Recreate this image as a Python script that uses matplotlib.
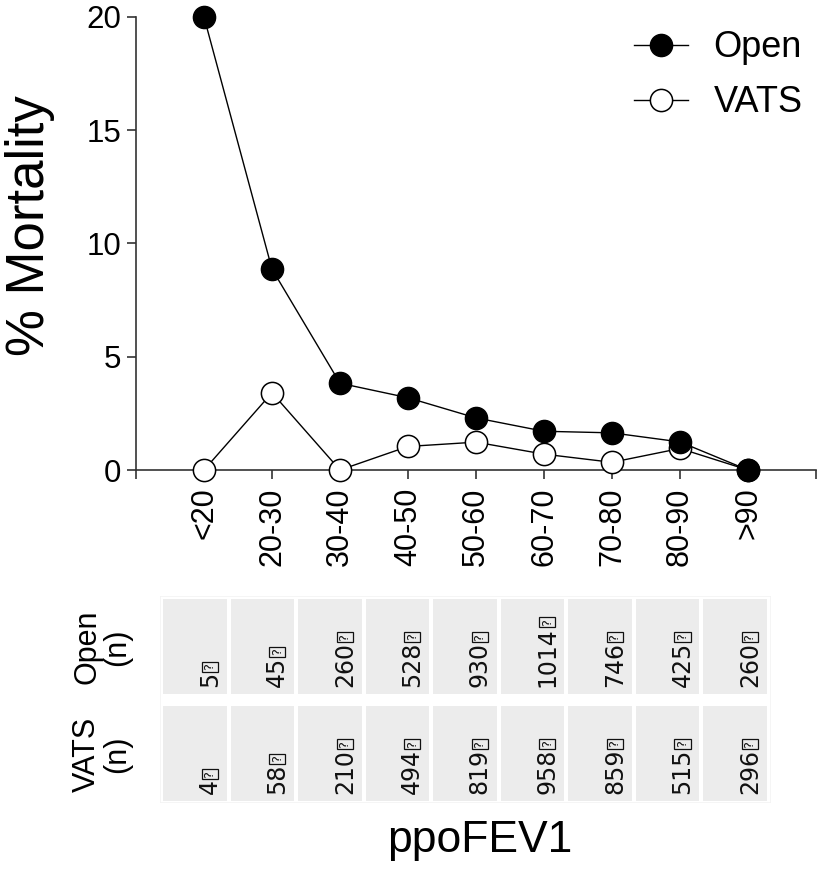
import matplotlib
matplotlib.use("Agg")
import matplotlib.pyplot as plt
from matplotlib.patches import Rectangle
import numpy as np

categories = ["<20", "20-30", "30-40", "40-50", "50-60", "60-70", "70-80", "80-90", ">90"]
open_mort = [20.0, 8.87, 3.83, 3.19, 2.30, 1.71, 1.64, 1.24, 0.0]
vats_mort = [0.0, 3.41, 0.0, 1.04, 1.23, 0.70, 0.34, 0.95, 0.0]
open_n = ["5", "45", "260", "528", "930", "1014", "746", "425", "260"]
vats_n = ["4", "58", "210", "494", "819", "958", "859", "515", "296"]
row_labels = ["Open\n(n)", "VATS\n(n)"]
yticks = [0, 5, 10, 15, 20]

W, H = 817, 872
fig = plt.figure(figsize=(W / 100, H / 100), dpi=100)
SANS = ["Liberation Sans", "DejaVu Sans"]

def fx(px):
    return px / W

def fy(py):
    return 1 - py / H

ax = fig.add_axes([fx(136), fy(470), fx(816) - fx(136), fy(17) - fy(470)])
x = np.arange(len(categories))
ax.plot(x, vats_mort, color="black", lw=1, marker="o", ms=16, mfc="white", mec="black",
        mew=1.1, label="VATS", clip_on=False, zorder=3)
ax.plot(x, open_mort, color="black", lw=1, marker="o", ms=16, mfc="black", mec="black",
        label="Open", clip_on=False, zorder=4)
ax.set_xlim(-1, len(categories))
ax.set_ylim(0, 20)
for s in ["top", "right"]:
    ax.spines[s].set_visible(False)
for s in ["left", "bottom"]:
    ax.spines[s].set_color("#333333")
    ax.spines[s].set_linewidth(1.2)
ax.set_yticks(yticks)
ax.set_yticklabels([str(t) for t in yticks], fontsize=22.5, family=SANS)
ax.set_xticks(list(range(-1, len(categories) + 1)))
ax.set_xticklabels([""] + categories + [""], rotation=90, fontsize=22, family=SANS)
ax.tick_params(axis="both", length=6.5, width=1.2, color="#333333")
ax.tick_params(axis="y", pad=4)
ax.tick_params(axis="x", pad=6)
fig.text(fx(30), fy(226), "% Mortality", rotation=90, ha="center", va="center",
         fontsize=38, family=SANS)

handles, labels = ax.get_legend_handles_labels()
order = [labels.index("Open"), labels.index("VATS")]
leg = ax.legend([handles[i] for i in order], [labels[i] for i in order],
                loc="upper right", bbox_to_anchor=(fx(817), fy(16)), bbox_transform=fig.transFigure,
                frameon=False, prop={"family": SANS, "size": 26}, handlelength=1.5,
                handletextpad=0.7, labelspacing=0.55, borderaxespad=0)

# table
tab = fig.add_axes([fx(160), fy(803), fx(771) - fx(160), fy(596) - fy(803)])
tab.set_xlim(-0.045, 9.0)
pitch = 107.0
tab.set_ylim((803 - 596) / pitch - 0.028, -0.028)
tab.axis("off")
frame = Rectangle((0, 0), 1, 1, transform=tab.transAxes, fill=False, ec="#f3f3f3", lw=1.2)
tab.add_patch(frame)
for r, vals in enumerate([open_n, vats_n]):
    for c, v in enumerate(vals):
        tab.add_patch(Rectangle((c, r), 0.94, 0.885, fc="#ececec", ec="none"))
        t = tab.text(c + 0.69, r + 0.82, v, rotation=90, ha="center", va="bottom",
                     fontsize=17, family="DejaVu Sans", color="#111111")
        tab.annotate("?", xy=(0.5, 1.0), xycoords=t, xytext=(0, 0.8), textcoords="offset points",
                     rotation=90, ha="center", va="bottom", fontsize=9.5, family="DejaVu Sans",
                     color="#111111",
                     bbox=dict(boxstyle="square,pad=0.12", fc="none", ec="#111111", lw=0.9))
    fig.text(fx(102), fy(647 + 107 * r), row_labels[r], rotation=90, ha="center", va="center",
             multialignment="center", fontsize=22, family=SANS, linespacing=1.0)

fig.text(fx(480), fy(840), "ppoFEV1", ha="center", va="center", fontsize=32, family=SANS)

fig.savefig("out.png", dpi=100)
